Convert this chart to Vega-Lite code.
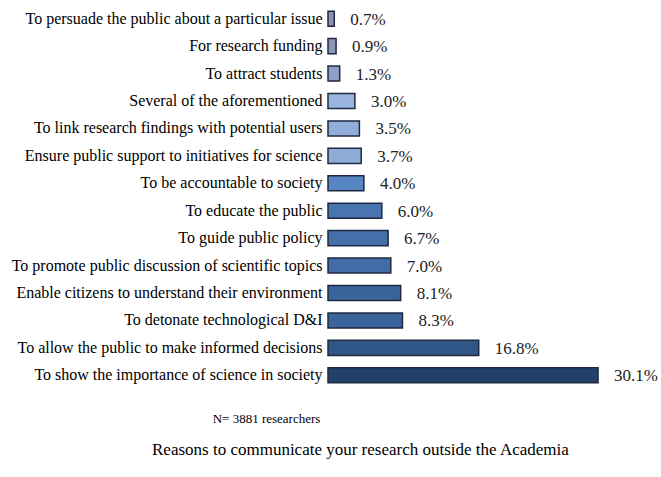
{
  "$schema": "https://vega.github.io/schema/vega-lite/v6.json",
  "width": 323,
  "height": 384,
  "autosize": "none",
  "padding": {"left": 328, "top": 5, "right": 10, "bottom": 88},
  "background": "white",
  "config": {
    "view": {"stroke": null},
    "font": "Liberation Serif",
    "axisY": {"labelFont": "Liberation Serif", "labelFontSize": 16},
    "text": {"font": "Liberation Serif"},
    "title": {"font": "Liberation Serif"}
  },
  "title": {"text": "Reasons to communicate your research outside the Academia", "orient": "bottom", "anchor": "start", "frame": "group", "fontSize": 17, "fontWeight": "normal", "color": "#000", "offset": 17, "dx": -176},
  "data": {"values": [
    {"reason": "To persuade the public about a particular issue", "pct": 0.007},
    {"reason": "For research funding", "pct": 0.009},
    {"reason": "To attract students", "pct": 0.013},
    {"reason": "Several of the aforementioned", "pct": 0.030},
    {"reason": "To link research findings with potential users", "pct": 0.035},
    {"reason": "Ensure public support to initiatives for science", "pct": 0.037},
    {"reason": "To be accountable to society", "pct": 0.040},
    {"reason": "To educate the public", "pct": 0.060},
    {"reason": "To guide public policy", "pct": 0.067},
    {"reason": "To promote public discussion of scientific topics", "pct": 0.070},
    {"reason": "Enable citizens to understand their environment", "pct": 0.081},
    {"reason": "To detonate technological D&I", "pct": 0.083},
    {"reason": "To allow the public to make informed decisions", "pct": 0.168},
    {"reason": "To show the importance of science in society", "pct": 0.301}
  ]},
  "encoding": {
    "y": {"field": "reason", "type": "nominal", "sort": null,
      "scale": {"paddingInner": 0.45, "paddingOuter": 0.225},
      "axis": {"title": null, "domain": false, "ticks": false, "labelPadding": 6, "labelFontSize": 16, "labelFont": "Liberation Serif", "labelColor": "#000", "labelLimit": 400}},
    "x": {"field": "pct", "type": "quantitative", "scale": {"domain": [0, 0.36]},
      "axis": {"title": "N= 3881 researchers", "titleFont": "Liberation Serif", "titleFontSize": 13, "titleFontWeight": "normal", "titleColor": "#000", "titleX": -62, "titleY": 23, "domain": false, "ticks": false, "labels": false, "grid": false}}
  },
  "layer": [
    {"mark": {"type": "bar", "stroke": "#1f2a42", "strokeWidth": 1.5},
     "encoding": {"color": {"field": "pct", "type": "quantitative", "legend": null,
       "scale": {"domain": [0.007, 0.013, 0.03, 0.037, 0.04, 0.08, 0.3], "range": ["#8a92b0", "#8fa0c8", "#9ab6df", "#8eaad6", "#5786c3", "#3a659c", "#22406a"]}}}},
    {"mark": {"type": "text", "align": "left", "dx": 16, "dy": 1, "fontSize": 17, "font": "Liberation Serif", "color": "#222"},
     "encoding": {"text": {"field": "pct", "type": "quantitative", "format": ".1%"}}}
  ]
}
